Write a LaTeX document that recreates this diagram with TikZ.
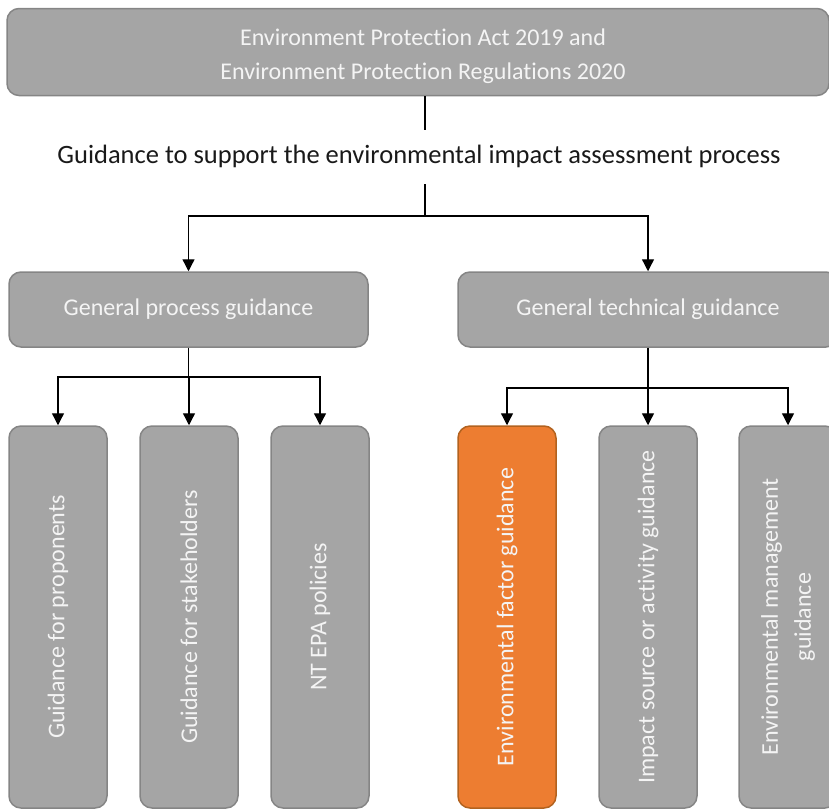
\documentclass[tikz,border=0pt]{standalone}
\usepackage{fontspec}
\setmainfont{Carlito}[RawFeature={-liga;-clig;-dlig;-calt}]
\usetikzlibrary{arrows.meta}
\definecolor{boxgray}{HTML}{A5A5A5}
\definecolor{edgegray}{HTML}{858585}
\definecolor{factor}{HTML}{ED7D31}
\definecolor{factoredge}{HTML}{B2621F}
\definecolor{boxtext}{HTML}{F4F4F4}

\begin{document}
\begin{tikzpicture}[x=1pt, y=-1pt,
		guide/.style={draw=edgegray, line width=1.5pt, fill=boxgray, rounded corners=12pt, text=boxtext, font=\fontsize{24}{33}\selectfont, align=center, inner sep=0pt},
		leaf/.style={guide, rotate=90, minimum width=382pt, minimum height=98pt},
		link/.style={line width=1.3pt, black},
		feed/.style={link, -{Triangle[width=12pt, length=12pt]}}]
		\useasboundingbox (0,0) rectangle (829,809);
		\clip (0,0) rectangle (829,809);

		\node[guide, minimum width=822pt, minimum height=87pt] (act) at (418,52) {};
		\node[text=boxtext, font=\fontsize{24}{34}\selectfont, align=center, inner sep=0pt] (acttext) at (423,56) {Environment Protection Act 2019 and\\Environment Protection Regulations 2020};
		\node[font=\fontsize{26.5}{30}\selectfont, text=black!90, text height=19pt, text depth=7pt, inner xsep=0pt, inner ysep=14pt] (eia) at (419,157) {Guidance to support the environmental impact assessment process};
		\coordinate (spine) at (425,130);
		\coordinate (split) at (425,216);

		\node[guide, minimum width=359pt, minimum height=75pt] (proc) at (188.5,309.5) {General process guidance};
		\node[guide, minimum width=380pt, minimum height=75pt] (tech) at (648,309.5) {General technical guidance};

		\node[leaf] (prop) at (58,617) {Guidance for proponents};
		\node[leaf] (stake) at (189,617) {Guidance for stakeholders};
		\node[leaf] (policy) at (320,617) {NT EPA policies};
		\node[leaf, fill=factor, draw=factoredge] (factor) at (507,617) {Environmental factor guidance};
		\node[leaf] (source) at (648,617) {Impact source or activity guidance};
		\node[leaf] (manage) at (788,617) {Environmental management\\guidance};

		\draw[link] (act.south -| spine) -- (spine);
		\draw[link] (eia.south -| split) -- (split);
		\draw[feed] (split) -| (proc);
		\draw[feed] (split) -| (tech);

		\coordinate (procsplit) at (188.5,377);
		\draw[link] (proc.south) -- (procsplit);
		\foreach \kid in {prop, stake, policy}
			\draw[feed] (procsplit) -| (\kid);

		\coordinate (techsplit) at (648,388);
		\draw[link] (tech.south) -- (techsplit);
		\foreach \kid in {factor, source, manage}
			\draw[feed] (techsplit) -| (\kid);
	\end{tikzpicture}
\end{document}
